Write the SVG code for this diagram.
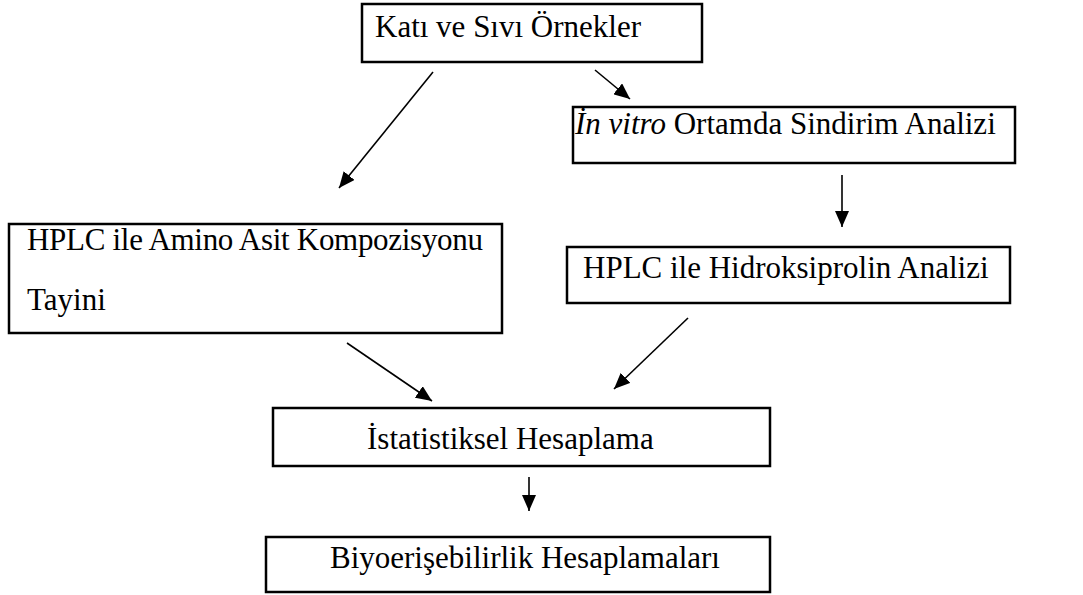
<svg xmlns="http://www.w3.org/2000/svg" width="1083" height="595" viewBox="0 0 1083 595">
<style>
.box{fill:#fff;stroke:#000;stroke-width:2.5}
.t{font-family:"Liberation Serif","Times New Roman",serif;font-size:31px;fill:#000}
.c{stroke:#000;stroke-width:1.6;fill:none;marker-end:url(#ah)}
</style>
<defs>
<marker id="ah" markerUnits="userSpaceOnUse" markerWidth="16" markerHeight="14" refX="16" refY="7" orient="auto">
<path d="M0,0 L16,7 L0,14 z" fill="#000"/>
</marker>
</defs>
<rect width="1083" height="595" fill="#fff"/>
<g id="n1"><rect class="box" x="362" y="4" width="340" height="58"/><text class="t" x="375" y="37">Katı ve Sıvı Örnekler</text></g>
<g id="n2"><rect class="box" x="573" y="107" width="442" height="56"/><text class="t" x="575" y="134"><tspan font-style="italic">İn vitro</tspan> Ortamda Sindirim Analizi</text></g>
<g id="n3"><rect class="box" x="9" y="224" width="493" height="109"/><text class="t" x="27" y="250" font-size="30" textLength="456" lengthAdjust="spacing">HPLC ile Amino Asit Kompozisyonu</text><text class="t" x="27" y="310" font-size="30">Tayini</text></g>
<g id="n4"><rect class="box" x="567" y="247" width="443" height="56"/><text class="t" x="583" y="278">HPLC ile Hidroksiprolin Analizi</text></g>
<g id="n5"><rect class="box" x="273" y="408" width="497" height="58"/><text class="t" x="367" y="449">İstatistiksel Hesaplama</text></g>
<g id="n6"><rect class="box" x="266" y="537" width="504" height="55"/><text class="t" x="330" y="568">Biyoerişebilirlik Hesaplamaları</text></g>
<g id="connectors">
<line class="c" x1="433" y1="72" x2="339" y2="188"/>
<line class="c" x1="595" y1="70" x2="630" y2="99"/>
<line class="c" x1="842" y1="175" x2="842" y2="227"/>
<line class="c" x1="347" y1="343" x2="432" y2="401"/>
<line class="c" x1="688" y1="318" x2="614" y2="389"/>
<line class="c" x1="529" y1="477" x2="529" y2="511"/>
</g>
</svg>
